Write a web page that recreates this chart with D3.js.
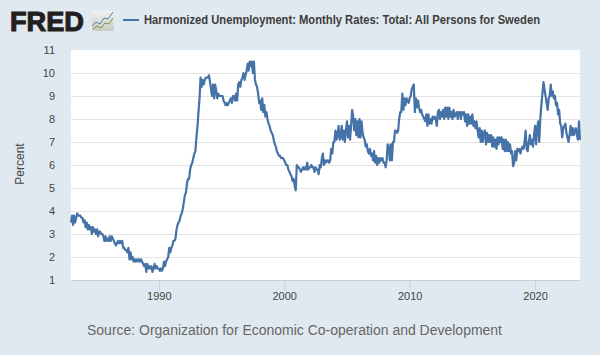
<!DOCTYPE html>
<html>
<head>
<meta charset="utf-8">
<title>Harmonized Unemployment: Sweden</title>
<script src="https://cdn.jsdelivr.net/npm/d3@7"></script>
<style>
  html, body { margin: 0; padding: 0; background: #e1e9f0; }
  svg { display: block; font-family: "Liberation Sans", Arial, sans-serif; }
</style>
</head>
<body>
<svg width="600" height="355"></svg>
<script>
// monthly values, starts Jan 1983
var startYear = 1983;
var unemployment = [
  3.5,3.8,3.4,3.8,3.5,3.7,3.9,3.8,3.8,3.8,3.7,3.7,
  3.5,3.6,3.3,3.5,3.2,3.4,3.2,3.3,3.0,3.3,3.1,3.2,
  3.0,3.2,2.9,3.1,3.1,3.0,3.0,2.9,2.7,2.9,2.7,2.8,
  2.7,2.9,2.7,2.9,2.8,2.7,2.6,2.5,2.6,2.7,2.6,2.7,
  2.6,2.7,2.4,2.4,2.3,2.3,2.2,2.4,1.9,2.2,1.9,2.0,
  1.8,1.9,1.8,1.9,1.8,1.9,1.8,1.9,1.8,1.7,1.6,1.7,
  1.35,1.7,1.5,1.6,1.5,1.6,1.35,1.5,1.7,1.5,1.6,1.5,
  1.5,1.4,1.5,1.4,1.5,1.8,1.6,1.8,1.9,2.0,2.4,2.2,
  2.4,2.5,2.7,2.7,2.8,3.2,3.4,3.5,3.6,3.8,3.9,4.1,
  4.4,4.7,4.8,5.2,5.4,5.4,5.8,6.0,6.1,6.3,6.5,6.6,
  7.2,7.7,8.3,8.9,9.8,9.4,9.7,9.5,9.7,9.8,9.8,9.8,
  9.9,9.6,9.3,9.0,9.5,8.9,9.5,9.2,8.9,9.1,9.0,9.0,
  9.0,9.0,8.8,8.7,8.6,8.7,8.6,8.7,8.8,8.9,8.7,9.0,
  9.0,8.8,9.1,8.8,9.5,9.6,9.4,9.7,9.8,10.0,9.7,9.9,
  10.1,10.4,10.1,10.5,10.3,10.5,10.0,10.5,9.7,9.5,9.4,9.1,
  8.7,8.8,8.4,8.9,8.3,8.6,8.1,8.3,8.0,7.8,7.7,7.5,
  7.4,7.3,7.1,6.9,6.8,6.6,6.5,6.4,6.4,6.3,6.3,6.3,
  6.2,6.1,6.0,6.0,5.8,5.7,5.6,5.5,5.3,5.4,5.1,4.9,
  6.0,5.9,5.9,5.8,5.7,5.8,5.9,5.8,5.9,5.8,6.1,5.8,
  5.9,5.9,6.0,5.9,5.9,5.7,5.9,5.8,5.8,5.6,6.0,5.9,
  6.3,6.5,6.0,6.2,6.1,6.2,6.2,6.1,6.2,6.7,6.5,7.0,
  7.0,7.5,7.1,7.3,7.7,7.1,7.2,7.7,7.1,7.5,7.0,7.5,
  7.9,7.2,7.7,7.1,7.7,8.4,8.1,7.5,8.0,7.3,7.9,7.2,
  8.0,7.2,7.9,7.4,7.2,7.1,6.8,6.9,6.6,6.5,6.7,6.4,
  6.5,6.2,6.6,6.1,6.4,6.0,6.3,6.1,6.3,6.2,6.3,6.1,
  6.1,5.9,6.2,6.9,6.8,6.2,6.9,6.2,7.0,7.0,7.5,7.5,
  7.4,7.5,8.0,8.3,8.3,9.1,8.4,8.9,8.6,8.9,8.8,8.7,
  8.9,9.0,9.3,9.4,9.5,8.3,8.9,8.5,8.8,8.5,8.3,8.4,
  8.2,8.1,8.0,7.9,8.2,7.7,8.2,7.8,8.0,7.8,8.1,8.0,
  8.1,8.0,7.7,8.3,8.4,8.0,8.3,8.1,8.4,8.0,8.5,8.1,
  8.5,8.0,8.5,8.1,8.3,8.0,8.4,8.1,8.2,8.3,8.0,8.3,
  8.3,8.0,8.3,8.2,8.3,7.9,8.2,7.7,8.2,7.8,8.1,7.8,
  8.2,7.7,7.9,7.6,7.9,7.5,7.2,7.6,7.0,7.5,7.0,7.4,
  7.5,6.9,7.4,7.0,7.3,7.0,7.3,6.8,7.2,6.8,7.1,6.7,
  7.2,6.9,7.2,7.0,7.2,6.7,7.1,6.6,7.1,6.6,7.0,6.6,
  6.9,6.5,6.6,5.95,6.1,6.6,6.2,6.7,6.6,6.7,6.5,6.7,
  6.8,6.7,7.0,7.5,6.7,6.6,7.0,7.3,6.9,7.1,6.8,7.3,
  7.7,6.9,7.6,7.9,7.0,8.0,8.6,9.1,9.6,9.3,9.0,8.7,
  8.4,8.9,9.0,9.5,9.0,9.2,8.9,9.0,8.6,8.7,8.2,8.4,
  7.8,7.7,7.2,7.6,7.7,7.8,7.4,7.2,7.0,7.3,7.7,7.3,
  7.6,7.3,7.5,7.6,7.3,7.1,7.9,7.1
];
var yTicks = [1,2,3,4,5,6,7,8,9,10,11];
var xTickYears = [1990,2000,2010,2020];

var titleText = "Harmonized Unemployment: Monthly Rates: Total: All Persons for Sweden";
var sourceText = "Source: Organization for Economic Co-operation and Development";

var svg = d3.select("svg");
var plotLeft = 71, plotRight = 580, plotTop = 50, plotBottom = 280;

var points = unemployment.map(function(v, i){
  return { date: new Date(startYear, i, 1), value: v };
});

var x = d3.scaleTime()
  .domain([points[0].date, points[points.length - 1].date])
  .range([plotLeft, plotRight]);
var y = d3.scaleLinear().domain([1, 11]).range([plotBottom, plotTop]);

// plot background
svg.append("rect")
  .attr("x", plotLeft).attr("y", plotTop)
  .attr("width", plotRight - plotLeft).attr("height", plotBottom - plotTop)
  .attr("fill", "#fff");

// y axis with grid lines
var yAxis = d3.axisLeft(y).tickValues(yTicks).tickSize(0).tickPadding(0).tickFormat(d3.format("d"));
var gy = svg.append("g").attr("transform", "translate(" + plotLeft + ",0)").call(yAxis);
gy.select(".domain").remove();
gy.selectAll("text")
  .attr("x", -16)
  .attr("font-size", 11)
  .attr("font-family", "Liberation Sans, Arial, sans-serif")
  .attr("fill", "#444");
svg.append("g").selectAll("line")
  .data(yTicks.filter(function(d){ return d > 1 && d < 11; }))
  .enter().append("line")
  .attr("x1", plotLeft).attr("x2", plotRight)
  .attr("y1", function(d){ return Math.round(y(d)) + 0.5; })
  .attr("y2", function(d){ return Math.round(y(d)) + 0.5; })
  .attr("stroke", "#e3e3e3");

// x axis
var xAxis = d3.axisBottom(x)
  .tickValues(xTickYears.map(function(d){ return new Date(d, 0, 1); }))
  .tickSize(10).tickPadding(2).tickFormat(d3.timeFormat("%Y"));
var gx = svg.append("g").attr("transform", "translate(0," + (plotBottom + 0.5) + ")").call(xAxis);
gx.select(".domain").attr("d", "M" + plotLeft + ",0H" + plotRight).attr("stroke", "#c0d0e0");
gx.selectAll("line").attr("stroke", "#c0d0e0");
gx.selectAll("text")
  .attr("font-size", 11)
  .attr("font-family", "Liberation Sans, Arial, sans-serif")
  .attr("fill", "#444");

// the series
var line = d3.line()
  .x(function(d){ return x(d.date); })
  .y(function(d){ return y(d.value); });
svg.append("path")
  .datum(points)
  .attr("d", line)
  .attr("fill", "none")
  .attr("stroke", "#4572a7")
  .attr("stroke-width", 2.2)
  .attr("stroke-linejoin", "round");

svg.append("text")
  .attr("transform", "translate(24,164) rotate(-90)")
  .attr("text-anchor", "middle")
  .attr("font-size", 12)
  .attr("fill", "#444")
  .text("Percent");

// legend and title
svg.append("line")
  .attr("x1", 123).attr("x2", 139).attr("y1", 20).attr("y2", 20)
  .attr("stroke", "#4572a7").attr("stroke-width", 2);
svg.append("text")
  .attr("x", 144).attr("y", 24)
  .attr("font-size", 12).attr("font-weight", "bold")
  .attr("fill", "#3c3c3c")
  .attr("textLength", 396).attr("lengthAdjust", "spacingAndGlyphs")
  .text(titleText);

// source
svg.append("text")
  .attr("x", 87).attr("y", 335)
  .attr("font-size", 14)
  .attr("fill", "#666")
  .attr("textLength", 415).attr("lengthAdjust", "spacingAndGlyphs")
  .text(sourceText);

// FRED logo
svg.append("text")
  .attr("x", 10).attr("y", 31)
  .attr("font-size", 28).attr("font-weight", "bold")
  .attr("fill", "#231f20").attr("stroke", "#231f20").attr("stroke-width", 1.1)
  .attr("textLength", 74).attr("lengthAdjust", "spacingAndGlyphs")
  .text("FRED");

var grad = svg.append("defs").append("linearGradient")
  .attr("id", "iconBg").attr("x1", 0).attr("y1", 0).attr("x2", 0).attr("y2", 1);
grad.append("stop").attr("offset", "0%").attr("stop-color", "#f1f1ef");
grad.append("stop").attr("offset", "100%").attr("stop-color", "#c9c9c5");
svg.append("rect")
  .attr("x", 92).attr("y", 11).attr("width", 22).attr("height", 20).attr("rx", 2)
  .attr("fill", "url(#iconBg)");
svg.append("polyline")
  .attr("points", "92,26 96,22 100,24 104,18 108,19 113,12")
  .attr("fill", "none").attr("stroke", "#4f7fa8").attr("stroke-width", 1);
svg.append("polyline")
  .attr("points", "93,29 97,26 101,28 105,23 109,24 113,18")
  .attr("fill", "none").attr("stroke", "#6f9a3c").attr("stroke-width", 1);
</script>
</body>
</html>
